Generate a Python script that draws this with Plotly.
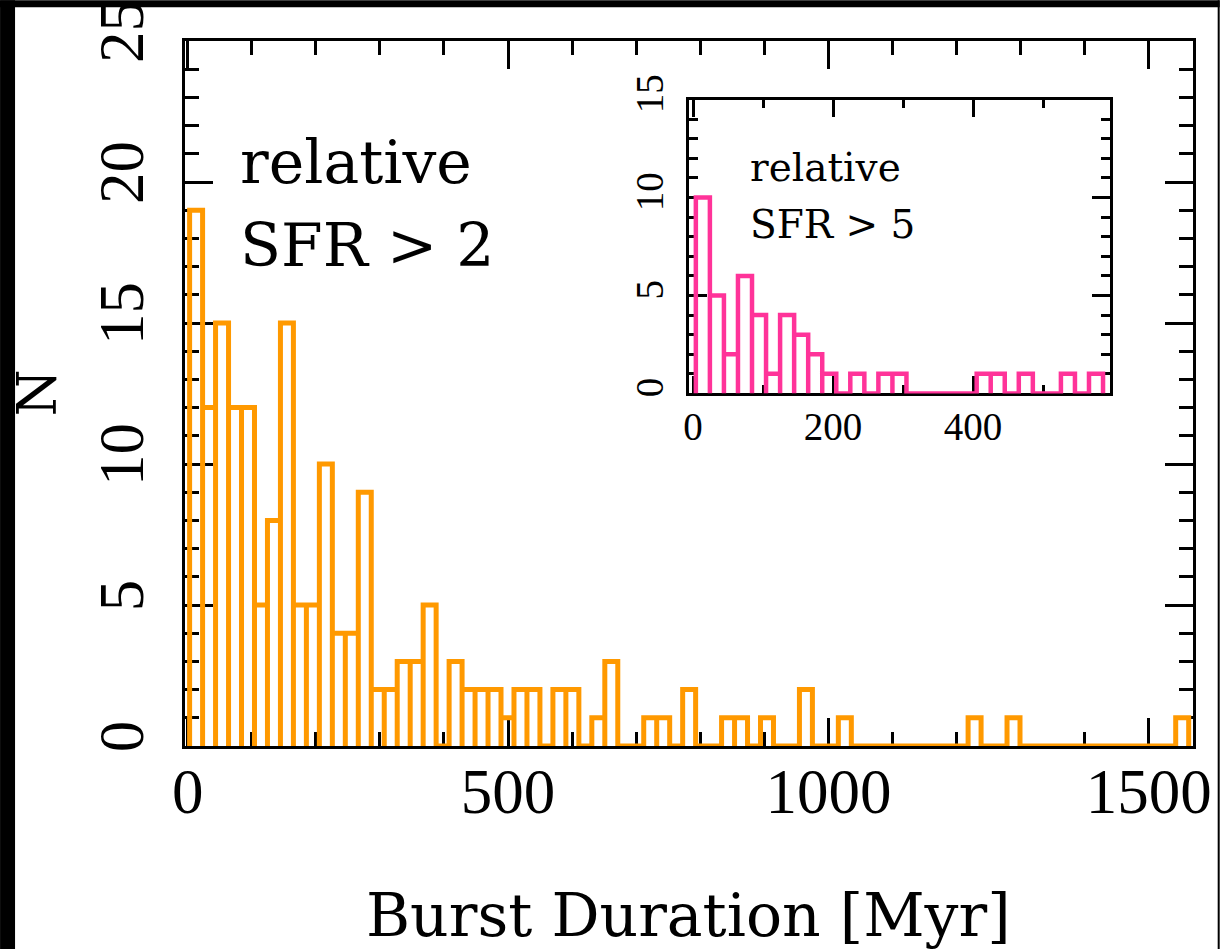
import numpy as np
import plotly.graph_objects as go

# ---------------- data ----------------
# main histogram: relative SFR > 2, counts per bin (bin width ~20 Myr)
main_bin_start = 3.0
main_bin_width = 20.25
main_counts = ([19, 12, 15, 12, 12, 5, 8, 15, 5, 5, 10, 4, 4, 9, 2, 2, 3, 3, 5, 0,
                3, 2, 2, 2, 1, 2, 2, 0, 2, 2, 0, 1, 3, 0, 0, 1, 1, 0, 2, 0,
                0, 1, 1, 0, 1, 0, 0, 2, 0, 0, 1]
               + [0] * 9 + [1, 0, 0, 1] + [0] * 12 + [1])

# inset histogram: relative SFR > 5
inset_bin_start = 4.0
inset_bin_width = 20.06
inset_counts = [10, 5, 2, 6, 4, 1, 4, 3, 2, 1, 0, 1, 0, 1, 1, 0, 0, 0, 0, 0,
                1, 1, 0, 1, 0, 0, 1, 0, 1]

main_xticks = [0, 500, 1000, 1500]
main_yticks = [0, 5, 10, 15, 20, 25]
inset_xticks = [0, 200, 400]
inset_yticks = [0, 5, 10, 15]

x_title = "Burst Duration [Myr]"
y_title = "N"
main_label = ["relative", "SFR > 2"]
inset_label = ["relative", "SFR > 5"]

ORANGE = "#FF9900"
PINK = "#FF3399"


def step_outline(start, width, counts):
    edges = start + width * np.arange(len(counts) + 1)
    xs, ys = [], []
    for i, c in enumerate(counts):
        xs += [edges[i], edges[i], edges[i + 1], edges[i + 1]]
        ys += [0, c, c, 0]
    return xs, ys


# ---------------- geometry (pixels) ----------------
W, H = 1220, 949
PL, PR, PT, PB = 185, 1193.3, 40.7, 746.0
pw, ph = PR - PL, PB - PT


def px_x(px):
    return (px - PL) / pw


def px_y(py):
    return (PB - py) / ph


fig = go.Figure()

mx, my = step_outline(main_bin_start, main_bin_width, main_counts)
fig.add_trace(go.Scatter(x=mx, y=my, mode="lines",
                         line=dict(color=ORANGE, width=5),
                         xaxis="x", yaxis="y", showlegend=False,
                         hoverinfo="skip"))

ix, iy = step_outline(inset_bin_start, inset_bin_width, inset_counts)
fig.add_trace(go.Scatter(x=ix, y=iy, mode="lines",
                         line=dict(color=PINK, width=4.5),
                         xaxis="x2", yaxis="y2", showlegend=False,
                         hoverinfo="skip"))

TICK_FONT = dict(family="Liberation Serif", size=63, color="black")
INSET_TICK_FONT = dict(family="Liberation Serif", size=39, color="black")
TEXT_FONT = "DejaVu Serif"

common = dict(showline=True, linecolor="black", linewidth=2.5, mirror="ticks",
              ticks="inside", tickcolor="black", tickwidth=2.5,
              showgrid=False, zeroline=False, layer="below traces",
              automargin=False)

fig.update_layout(
    template="none",
    width=W, height=H,
    margin=dict(l=PL, r=W - PR, t=PT, b=H - PB, pad=0, autoexpand=False),
    paper_bgcolor="white", plot_bgcolor="white",
    showlegend=False,
    xaxis=dict(range=[-4.2, 1569], domain=[0, 1], anchor="y",
               tickmode="array", tickvals=main_xticks,
               ticktext=[str(v) for v in main_xticks],
               ticklen=28, tickfont=TICK_FONT, ticklabelstandoff=-11,
               minor=dict(dtick=100, tick0=0, ticklen=14, tickwidth=2.5,
                          tickcolor="black", ticks="inside"),
               **common),
    yaxis=dict(range=[0, 25], domain=[0, 1], anchor="x",
               tickmode="array", tickvals=main_yticks,
               ticktext=[str(v) for v in main_yticks],
               ticklen=28, tickfont=TICK_FONT, tickangle=-90,
               ticklabelstandoff=14,
               minor=dict(dtick=1, tick0=0, ticklen=14, tickwidth=2.5,
                          tickcolor="black", ticks="inside"),
               **common),
    xaxis2=dict(range=[-6, 595.3], domain=[px_x(689), px_x(1110)], anchor="y2",
                tickmode="array", tickvals=inset_xticks,
                ticktext=[str(v) for v in inset_xticks],
                ticklen=18, tickfont=INSET_TICK_FONT, ticklabelstandoff=-3,
                minor=dict(dtick=100, tick0=0, ticklen=9, tickwidth=2.5,
                           tickcolor="black", ticks="inside"),
                **common),
    yaxis2=dict(range=[0, 15], domain=[px_y(393.3), px_y(99.3)], anchor="x2",
                tickmode="array", tickvals=inset_yticks,
                ticktext=[str(v) for v in inset_yticks],
                ticklen=18, tickfont=INSET_TICK_FONT, tickangle=-90,
                ticklabelstandoff=8,
                minor=dict(dtick=1, tick0=0, ticklen=9, tickwidth=2.5,
                           tickcolor="black", ticks="inside"),
                **common),
)

ann = []
# axis titles
ann.append(dict(text=x_title, xref="paper", yref="paper", x=px_x(689), y=px_y(915),
                xanchor="center", yanchor="middle", showarrow=False,
                font=dict(family=TEXT_FONT, size=60, color="black")))
ann.append(dict(text=y_title, xref="paper", yref="paper", x=px_x(37), y=0.5,
                xanchor="center", yanchor="middle", showarrow=False, textangle=-90,
                font=dict(family=TEXT_FONT, size=54, color="black")))
# main labels
ann.append(dict(text=main_label[0], xref="paper", yref="paper", x=px_x(238), y=px_y(162),
                xanchor="left", yanchor="middle", showarrow=False,
                font=dict(family=TEXT_FONT, size=60, color="black")))
ann.append(dict(text=main_label[1], xref="paper", yref="paper", x=px_x(238), y=px_y(245),
                xanchor="left", yanchor="middle", showarrow=False,
                font=dict(family=TEXT_FONT, size=60, color="black")))
# inset labels
ann.append(dict(text=inset_label[0], xref="paper", yref="paper", x=px_x(748), y=px_y(167),
                xanchor="left", yanchor="middle", showarrow=False,
                font=dict(family=TEXT_FONT, size=39, color="black")))
ann.append(dict(text=inset_label[1], xref="paper", yref="paper", x=px_x(748), y=px_y(224),
                xanchor="left", yanchor="middle", showarrow=False,
                font=dict(family=TEXT_FONT, size=39, color="black")))
fig.update_layout(annotations=ann)

# black border strips of the original figure
shapes = [
    dict(type="rect", xref="paper", yref="paper", x0=px_x(0), x1=px_x(15),
         y0=px_y(H), y1=px_y(0), fillcolor="black", line=dict(width=0)),
    dict(type="rect", xref="paper", yref="paper", x0=px_x(0), x1=px_x(W),
         y0=px_y(7), y1=px_y(0), fillcolor="black", line=dict(width=0)),
    dict(type="rect", xref="paper", yref="paper", x0=px_x(1218), x1=px_x(W),
         y0=px_y(H), y1=px_y(0), fillcolor="black", line=dict(width=0)),
]
fig.update_layout(shapes=shapes)

fig.write_html("out.html")
